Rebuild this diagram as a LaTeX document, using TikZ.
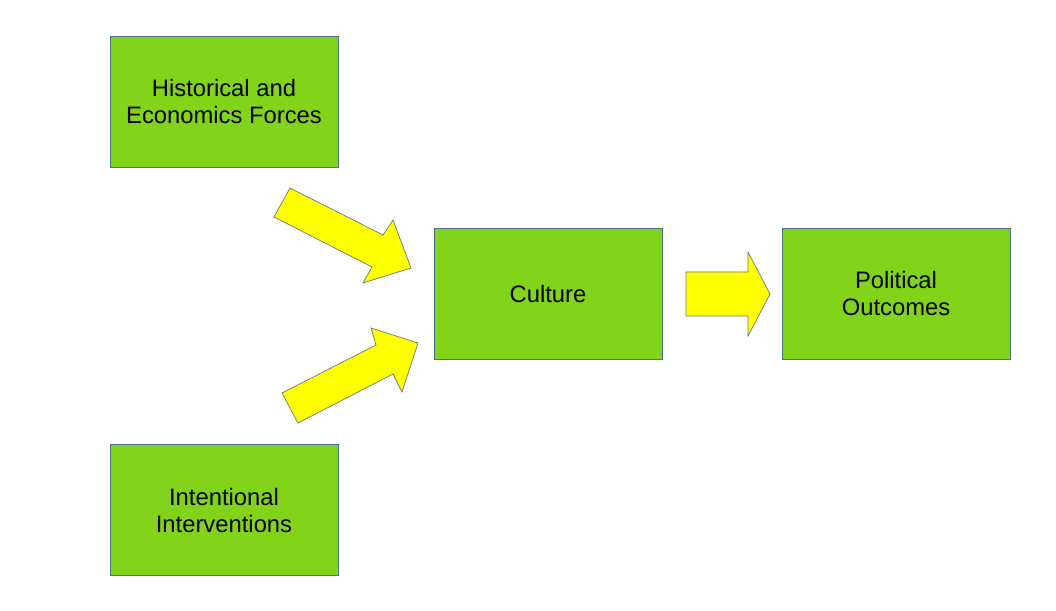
\documentclass[tikz,border=0pt]{standalone}
\usepackage{fontspec}
\setmainfont{Liberation Sans}
\definecolor{boxgreen}{HTML}{81D41A}
\definecolor{edgeblue}{HTML}{4A7090}
\definecolor{arrowedge}{HTML}{6A7A80}
\definecolor{arrowyellow}{HTML}{FFFF00}
\tikzset{
  factor/.style={draw=edgeblue, line width=0.8pt, fill=boxgreen, minimum width=228pt,
    minimum height=131pt, align=center, inner sep=0pt,
    font=\fontsize{23.8}{27}\selectfont},
  blockarrow/.style={draw=arrowedge, line width=0.7pt, fill=arrowyellow, line join=miter}
}
\begin{document}
\begin{tikzpicture}[x=1pt,y=-1pt]
  \useasboundingbox[fill=white] (0,0) rectangle (1056,610);
  % Boxes
  \node[factor] (history) at (224,101.5) {Historical and\\Economics Forces};
  \node[factor] (interv) at (224,510) {Intentional\\Interventions};
  \node[factor] (culture) at (548,293.5) {Culture};
  \node[factor] (politics) at (896,293.5) {Political\\Outcomes};
  % Arrows into culture
  \draw[blockarrow] (290,188) -- (383,235) -- (393,220) -- (411,268) -- (363,283)
    -- (372,267) -- (274,217) -- cycle;
  \draw[blockarrow] (282,393) -- (376,345) -- (371,328) -- (418,343) -- (402,392)
    -- (393,374) -- (298,423) -- cycle;
  % Arrow to outcomes
  \draw[blockarrow] (686,272) -- (748,272) -- (748,252) -- (770,294) -- (748,336)
    -- (748,316) -- (686,316) -- cycle;
\end{tikzpicture}
\end{document}
